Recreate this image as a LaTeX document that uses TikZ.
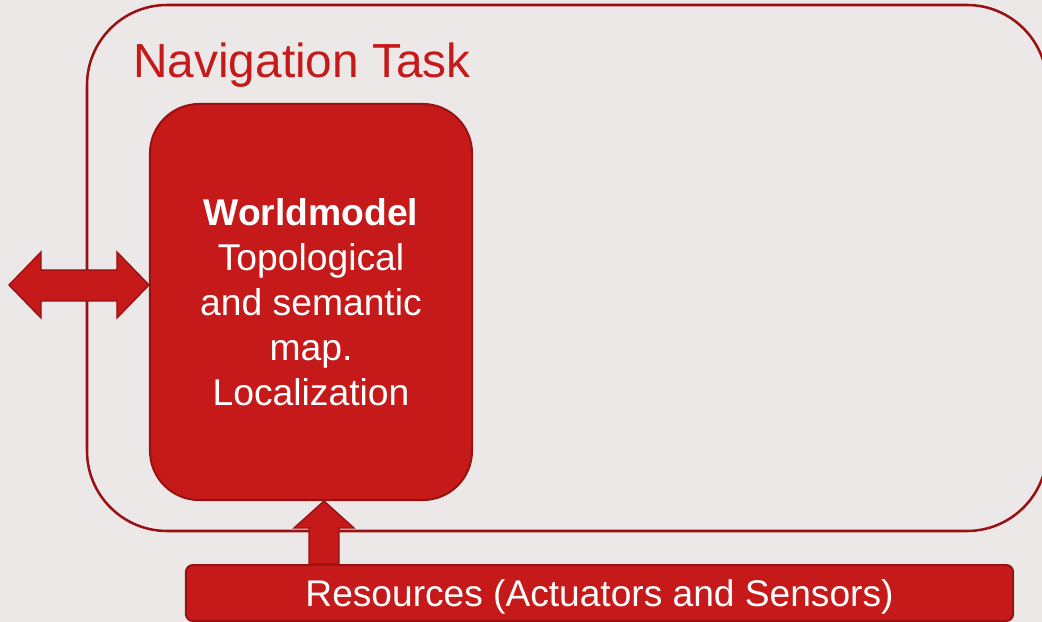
\documentclass[tikz,border=0pt]{standalone}
\usepackage{fontspec}
\setmainfont{Liberation Sans}
\usetikzlibrary{calc}
\definecolor{slidebg}{RGB}{237,232,232}
\definecolor{tred}{RGB}{197,25,26}
\definecolor{tdark}{RGB}{152,18,20}

\tikzset{
  wmbox/.style={fill=tred,draw=tdark,line width=1.4pt,rounded corners=35pt,
    text=white,align=center,font=\fontsize{26.5}{32}\selectfont,
    minimum width=8.05cm,minimum height=9.9cm},
  resbox/.style={fill=tred,draw=tdark,line width=1.4pt,rounded corners=5pt,
    text=white,font=\fontsize{26.4}{31}\selectfont,text depth=0pt,
    minimum width=20.675cm,minimum height=1.4cm},
  blockarrow/.style={fill=tred,draw=tdark,line width=1pt,line join=miter},
}

\begin{document}
\begin{tikzpicture}[x=0.025cm,y=-0.025cm]
  % slide background
  \fill[slidebg] (0,0) rectangle (1042,622);
  \clip (0,0) rectangle (1042,622);
  % task frame, runs off the right edge
  \draw[tdark,line width=1.8pt,rounded corners=57pt] (87,5) rectangle (1047,531);
  \node[anchor=base west,inner sep=0,text=tred,font=\fontsize{34}{40}\selectfont]
    (title) at (133,78) {Navigation Task};
  % world model block
  \node[wmbox] (wm) at (311,302)
    {\textbf{Worldmodel}\\Topological\\and semantic\\map.\\Localization};
  % resources bar
  \node[resbox] (res) at (599.5,593) {Resources (Actuators and Sensors)};
  % double arrow to the outside
  \coordinate (ext) at (9,285);
  \coordinate (tipR) at (wm.west |- ext);
  \draw[blockarrow] (ext) -- ++(32,-33) -- ++(0,18) -- ($(tipR)+(-32,-15)$)
    -- ++(0,-18) -- (tipR) -- ++(-32,33) -- ++(0,-17) -- ($(ext)+(32,16)$)
    -- ++(0,17) -- cycle;
  % up arrow from resources
  \coordinate (ux) at (324,0);
  \draw[blockarrow] (ux |- wm.south) -- ++(30,27) -- ++(-15,0)
    -- ($(ux |- res.north)+(15,0)$) -- ++(-30,0)
    -- ($(ux |- wm.south)+(-15,27)$) -- ++(-15,0) -- cycle;
\end{tikzpicture}
\end{document}
